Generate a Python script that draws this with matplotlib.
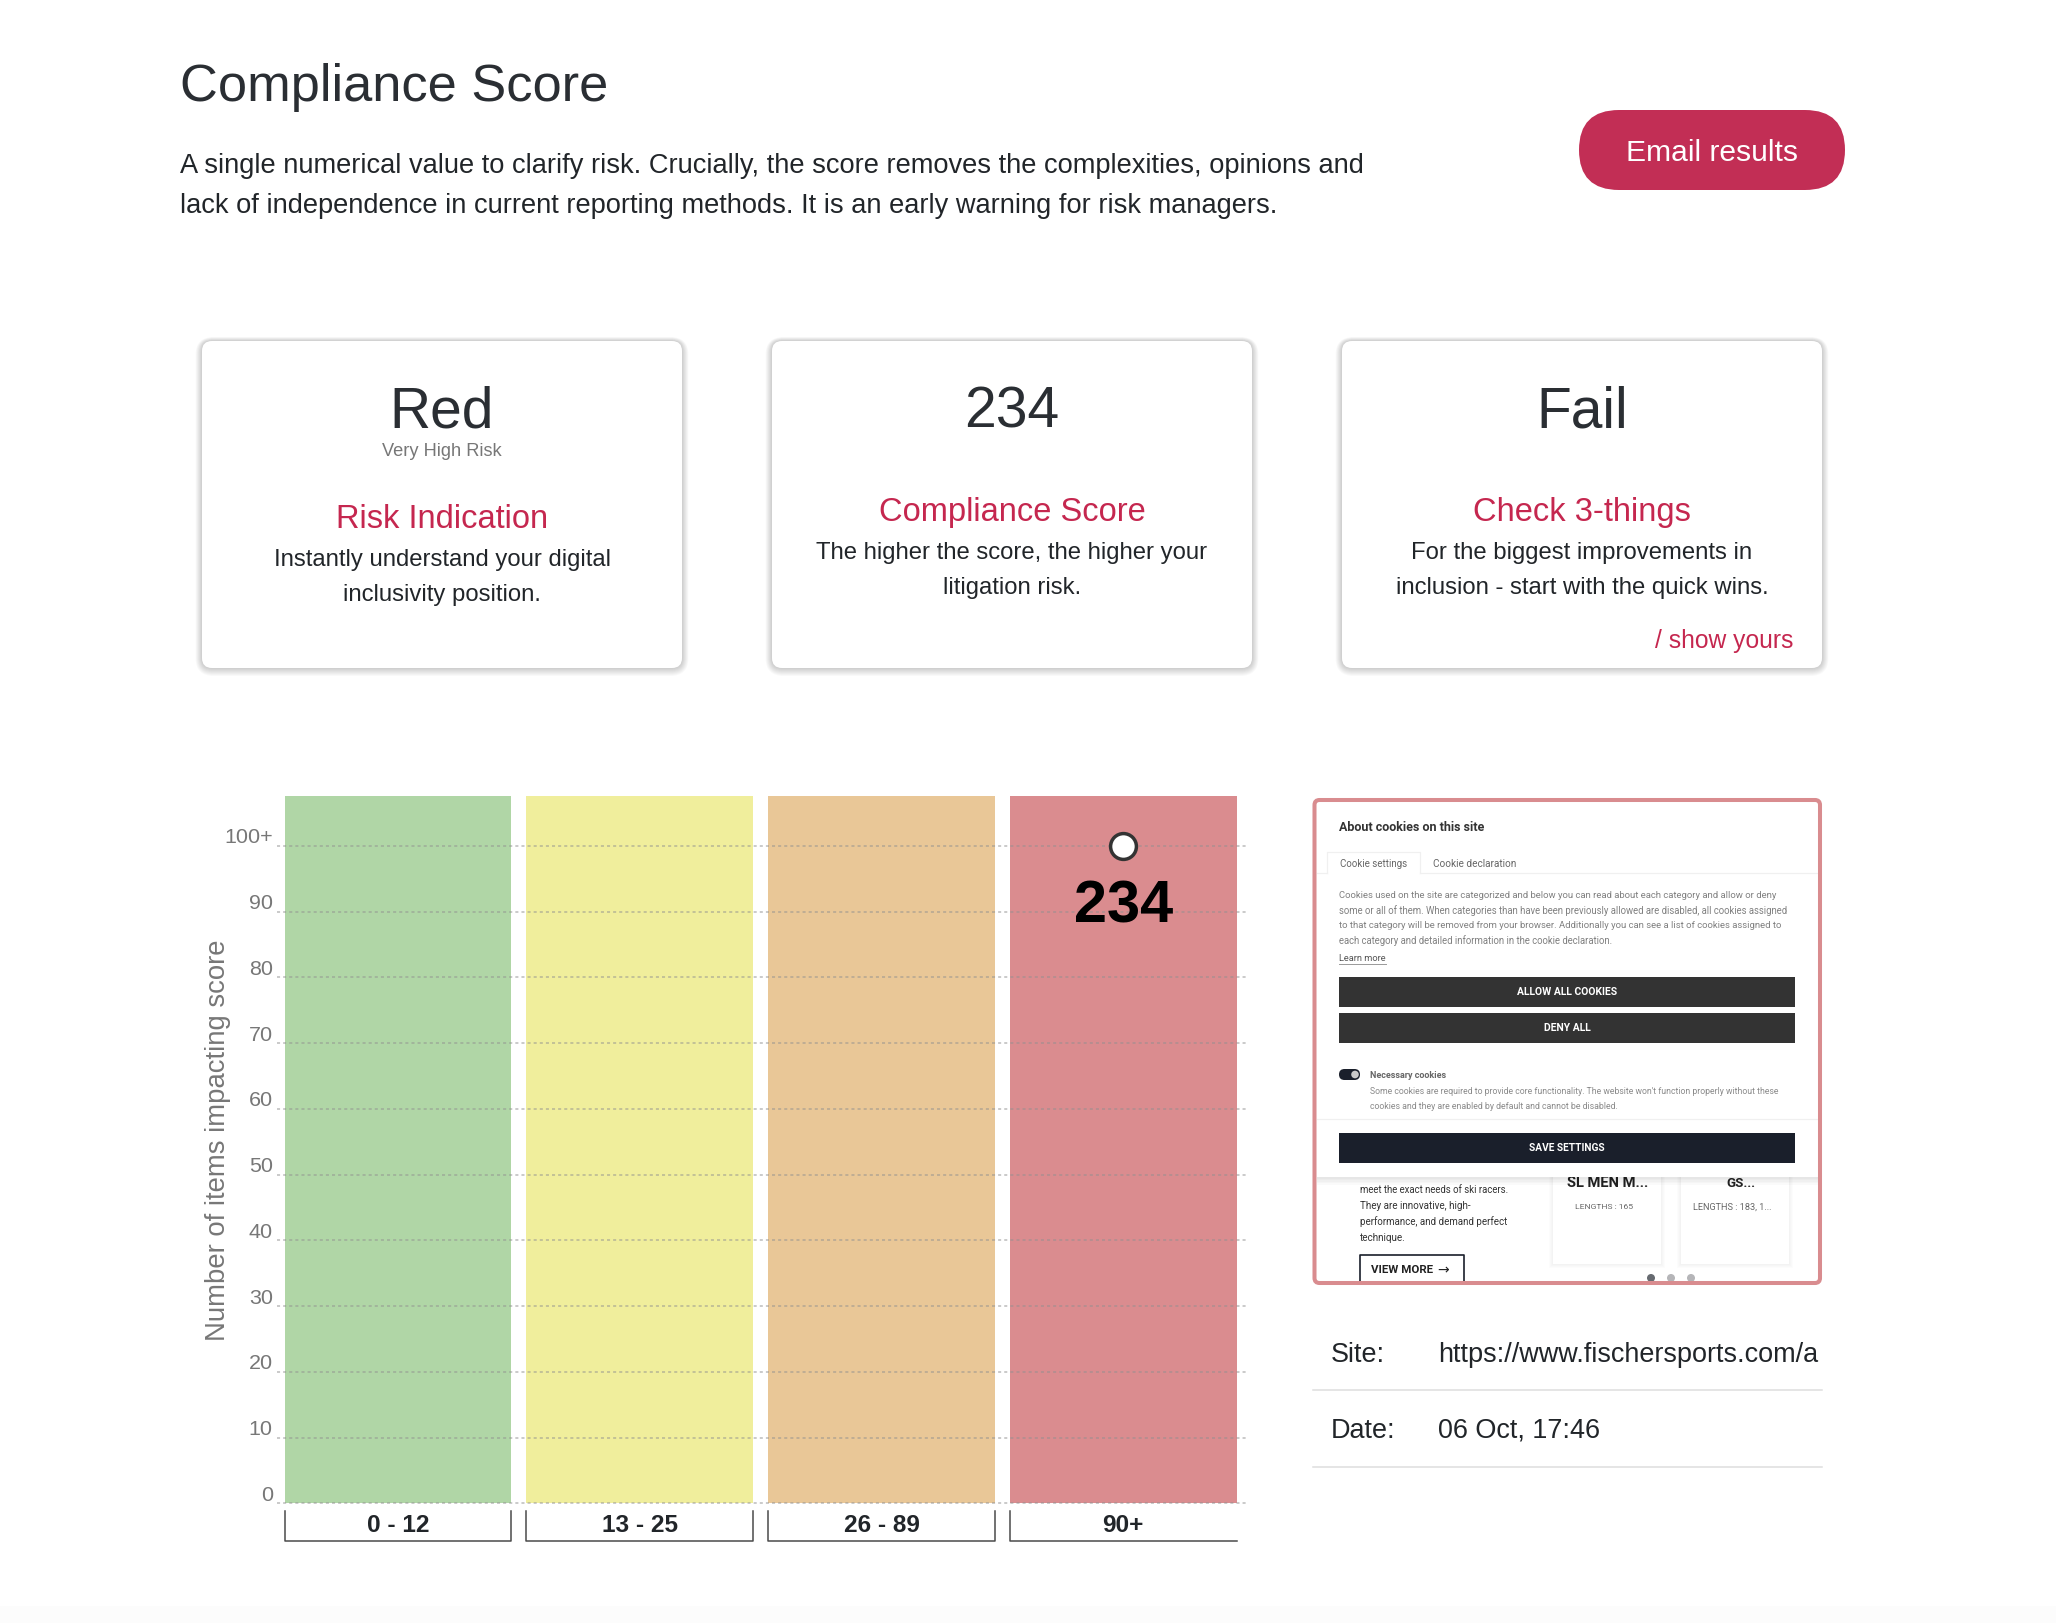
import matplotlib
matplotlib.use("Agg")
import matplotlib.pyplot as plt
from matplotlib.patches import FancyBboxPatch, Rectangle, Circle
from matplotlib.transforms import blended_transform_factory, ScaledTranslation

# ---------- data ----------
band_labels = ["0 - 12", "13 - 25", "26 - 89", "90+"]
band_tops = [107.6, 107.6, 107.6, 107.6]
band_colors = ["#b0d6a6", "#f0ee9c", "#e9c797", "#da8c8f"]
y_ticks = [0, 10, 20, 30, 40, 50, 60, 70, 80, 90, 100]
y_tick_labels = ["0", "10", "20", "30", "40", "50", "60", "70", "80", "90", "100+"]
score_band = 3
score_y = 100
score_text = "234"
y_title = "Number of items impacting score"

card_big = ["Red", "234", "Fail"]
card_heads = ["Risk Indication", "Compliance Score", "Check 3-things"]
card_body = [["Instantly understand your digital", "inclusivity position."],
             ["The higher the score, the higher your", "litigation risk."],
             ["For the biggest improvements in", "inclusion - start with the quick wins."]]

W, H = 2056, 1624
SHIFT = 1.0
FONT = "Liberation Sans"
INK = "#212529"
CRIMSON = "#c5274f"
GREY = "#777777"
BORDER = "#d98c8f"

fig = plt.figure(figsize=(W / 100, H / 100), dpi=100, facecolor="white")
page = fig.add_axes([0, 0, 1, 1], zorder=0)
page.set_xlim(0, W)
page.set_ylim(H - SHIFT, -SHIFT)
page.axis("off")
renderer = fig.canvas.get_renderer()


def T(x, y, s, px=20, w=None, color=INK, ha="left", va="baseline", weight="normal",
      family=FONT, z=5, **kw):
    t = page.text(x, y, s, fontsize=px * 0.72, color=color, ha=ha, va=va,
                  fontweight=weight, family=family, zorder=z, **kw)
    if w is not None:
        ext = t.get_window_extent(renderer)
        t.set_fontsize(t.get_fontsize() * w / max(ext.width, ext.height))
    return t


def RR(x0, y0, x1, y1, r, fc="white", ec="none", lw=0, z=2, alpha=None):
    p = FancyBboxPatch((x0 + r, y0 + r), x1 - x0 - 2 * r, y1 - y0 - 2 * r,
                       boxstyle=f"round,pad={r},rounding_size={r}", fc=fc, ec=ec,
                       lw=lw, zorder=z, alpha=alpha)
    page.add_patch(p)
    return p


def R(x0, y0, x1, y1, fc, z=3, alpha=None):
    p = Rectangle((x0, y0), x1 - x0, y1 - y0, fc=fc, ec="none", zorder=z, alpha=alpha)
    page.add_patch(p)
    return p


# faint page footer tone
R(0, 1606, W, H + 2, "#fcfcfc", z=0.5)

# ---------- header ----------
T(180, 99.5, "Compliance Score", 55, w=429, color="#2a2e33")
T(180, 172, "A single numerical value to clarify risk. Crucially, the score removes the complexities, opinions and", 27, w=1182)
T(180, 212, "lack of independence in current reporting methods. It is an early warning for risk managers.", 27, w=1096)
RR(1579, 110, 1845, 190, 40, fc="#c22e55")
T(1712, 149, "Email results", 28, w=172, color="white", ha="center", va="center_baseline")

# ---------- cards ----------
card_x = [202, 772, 1342]
card_w = 480
for i, x0 in enumerate(card_x):
    for g in range(8, 0, -1):
        RR(x0 - g * 0.8, 341 - g * 0.5, x0 + card_w + g * 0.8, 668 + g, 10 + g,
           fc="#000000", z=1, alpha=0.022)
    RR(x0, 341, x0 + card_w, 668, 10, fc="white", z=2)
    cx = x0 + card_w / 2
    T(cx, 426, card_big[i], 57, color="#2a2e33", ha="center")
    dy = 0 if i == 0 else -7
    T(cx, 527 + dy, card_heads[i], 32.7, color=CRIMSON, ha="center")
    T(cx, 565 + dy, card_body[i][0], 23.9, ha="center")
    T(cx, 600 + dy, card_body[i][1], 23.9, ha="center")
T(442, 455.5, "Very High Risk", 18.3, color=GREY, ha="center")
T(1793, 647, "/ show yours", 24.6, color=CRIMSON, ha="right")

# ---------- chart ----------
ax_l, ax_r, ax_t, ax_b = 277.0, 1245.6, 796.0 + SHIFT, 1503.3 + SHIFT
ax = fig.add_axes([ax_l / W, 1 - ax_b / H, (ax_r - ax_l) / W, (ax_b - ax_t) / H], zorder=1)
ax.patch.set_alpha(0)
for s in ax.spines.values():
    s.set_visible(False)
pitch, first = 241.8, 397.9
ax.set_xlim((ax_l - first) / pitch, (ax_r - first) / pitch)
ax.set_ylim(0, band_tops[0])
positions = list(range(len(band_labels)))
bars = ax.bar(positions, band_tops, width=226.8 / pitch, color=band_colors, zorder=1)
ax.set_xticks([])
ax.set_yticks(y_ticks)
ax.set_yticklabels(y_tick_labels)
ax.tick_params(axis="y", length=0, pad=3.0, labelsize=21.5 * 0.72, labelcolor=GREY)
lift = ScaledTranslation(0, 11.0 / 100, fig.dpi_scale_trans)
for lab in ax.get_yticklabels():
    lab.set_family(FONT)
    lab.set_transform(lab.get_transform() + lift)
ax.set_axisbelow(False)
ax.grid(axis="y", color="#909090", lw=1.1, alpha=0.6, linestyle=(0, (2, 2)), zorder=2)
for gl in ax.get_ygridlines():
    gl.set_clip_on(False)
T(218.2, 1139.5, y_title, 26, w=402, color=GREY, ha="center", va="center", rotation=90)

tr = blended_transform_factory(ax.transData, page.transData)
for i, b in enumerate(bars):
    x0, x1 = b.get_x(), b.get_x() + b.get_width()
    xs = [x0, x0, x1, x1] if i < len(bars) - 1 else [x0, x0, x1]
    ys = [1511, 1541, 1541, 1511] if i < len(bars) - 1 else [1511, 1541, 1541]
    ax.plot(xs, ys, transform=tr, color="#4a4a4a", lw=1.1, clip_on=False, zorder=3)
    ax.text(positions[i], 1525, band_labels[i], transform=tr, ha="center", va="center",
            fontsize=24.4 * 0.72, fontweight="bold", family=FONT, color=INK, clip_on=False)

ax.plot([score_band], [score_y], "o", ms=18.6, mfc="white", mec="#333333",
        mew=2.5, zorder=5, clip_on=False)
ax.annotate(score_text, (score_band, score_y), xytext=(0, -54.5), textcoords="offset points",
            ha="center", va="baseline", fontsize=59.5 * 0.72, fontweight="bold", family=FONT,
            color="black", zorder=6)

# ---------- screenshot panel ----------
bx0, by0, bx1, by1 = 1312.5, 798, 1822, 1285
UI = "Roboto"

# page content behind the dialog
for cx0, cx1 in [(1553, 1661), (1681, 1789)]:
    for g in range(4, 0, -1):
        R(cx0 - g, 1170, cx1 + g, 1264 + g, "#000000", z=1.2, alpha=0.012)
    R(cx0, 1170, cx1, 1264, "white", z=1.3)
T(1608, 1186, "SL MEN M...", 14, w=82, weight="bold", family=UI, color="#222222", ha="center", z=3)
T(1741, 1186, "GS...", 14, w=29, weight="bold", family=UI, color="#222222", ha="center", z=3)
T(1604, 1206, "LENGTHS : 165", 9, w=58, family=UI, color="#666666", ha="center", va="center", z=3)
T(1732, 1206, "LENGTHS : 183, 1...", 9, w=78, family=UI, color="#666666", ha="center", va="center", z=3)
for ly, line, lw_ in [(1189, "meet the exact needs of ski racers.", 150),
                      (1205, "They are innovative, high-", 112),
                      (1221, "performance, and demand perfect", 148),
                      (1237, "technique.", 46)]:
    T(1360, ly, line, 10.5, w=lw_, family=UI, color="#333333", va="center", z=3)
page.plot([1360, 1360, 1464, 1464], [1281, 1255, 1255, 1281], color="#1a1f2b", lw=1.2, zorder=3)
T(1371, 1269, "VIEW MORE", 11, w=62, family=UI, weight="bold", color="#222222", va="center", z=3)
T(1437, 1269, "\u2192", 14, family="DejaVu Sans", color="#222222", va="center", z=3)
for dx, dc in [(1651, "#666a70"), (1671, "#b5b5b8"), (1691, "#b5b5b8")]:
    page.add_patch(Circle((dx, 1278), 4, fc=dc, ec="none", zorder=3))

# dialog
for g in range(5, 0, -1):
    R(bx0 + 4, 1177, bx1 - 4, 1177 + g * 1.6, "#000000", z=3.5, alpha=0.02)
R(bx0 + 4, by0 + 4, bx1 - 4, 1177, "white", z=4)
T(1339, 827, "About cookies on this site", 12, w=146, weight="bold", family=UI, color="#333333", va="center")
page.plot([1327, 1327, 1420, 1420], [873, 852, 852, 873], color="#f0f0f0", lw=0.9, zorder=5)
page.plot([1317, 1327], [873, 873], color="#f0f0f0", lw=0.9, zorder=5)
page.plot([1420, 1817], [873, 873], color="#f0f0f0", lw=0.9, zorder=5)
T(1339.6, 863, "Cookie settings", 9, w=67, family=UI, color="#666666", va="center")
T(1433, 863, "Cookie declaration", 9, w=82, family=UI, color="#666666", va="center")
para = [("Cookies used on the site are categorized and below you can read about each category and allow or deny", 436),
        ("some or all of them. When categories than have been previously allowed are disabled, all cookies assigned", 449),
        ("to that category will be removed from your browser. Additionally you can see a list of cookies assigned to", 441),
        ("each category and detailed information in the cookie declaration.", 273)]
for k, (line, wd) in enumerate(para):
    T(1339, 895 + 15 * k, line, 9, w=wd, family=UI, color="#808080", va="center")
T(1339, 958, "Learn more", 9, w=47, family=UI, color="#555555", va="center")
page.plot([1339, 1386], [963.5, 963.5], color="#999999", lw=0.7, zorder=5)
for y0, y1, fc, label, tw in [(977, 1007, "#333333", "ALLOW ALL COOKIES", 100),
                              (1013, 1043, "#333333", "DENY ALL", 47),
                              (1133, 1163, "#1a1f2b", "SAVE SETTINGS", 75)]:
    R(1339, y0, 1795, y1, fc, z=5)
    T(1567, (y0 + y1) / 2 - 0.5, label, 9, w=tw, family=UI, weight="bold", color="white",
      ha="center", va="center", z=6)
RR(1339, 1069, 1360, 1080, 5.5, fc="#1a1f2b", z=5)
page.add_patch(Circle((1355, 1074.5), 3.8, fc="#c9c9c9", ec="none", zorder=6))
T(1369.6, 1075, "Necessary cookies", 10, w=77, family=UI, weight="bold", color="#666666", va="center")
T(1369.6, 1091, "Some cookies are required to provide core functionality. The website won't function properly without these", 9, w=408, family=UI, color="#8a8a8a", va="center")
T(1369.6, 1106, "cookies and they are enabled by default and cannot be disabled.", 9, w=247, family=UI, color="#8a8a8a", va="center")
page.plot([1317, 1817], [1119, 1119], color="#f0f0f0", lw=0.9, zorder=5)

# border over everything in the panel
page.add_patch(FancyBboxPatch((bx0 + 7, by0 + 7), bx1 - bx0 - 14, by1 - by0 - 14,
                              boxstyle="round,pad=5,rounding_size=5", fc="none", ec=BORDER, lw=2.9, zorder=7))

# ---------- meta table ----------
T(1331, 1354.5, "Site:", 27, va="center", color=INK)
T(1438, 1354.5, "https://www.fischersports.com/a", 27, va="center", color=INK, z=5)
R(1820, 1325, 1900, 1385, "white", z=6)   # the long address is cut off at the column edge
T(1331, 1430, "Date:", 27, va="center", color=INK)
T(1438, 1430, "06 Oct, 17:46", 27, va="center", color=INK)
for ly in (1390, 1467):
    page.plot([1312.5, 1822], [ly, ly], color="#dedede", lw=1.1, zorder=3)

fig.savefig("out.png", dpi=100, facecolor="white")
